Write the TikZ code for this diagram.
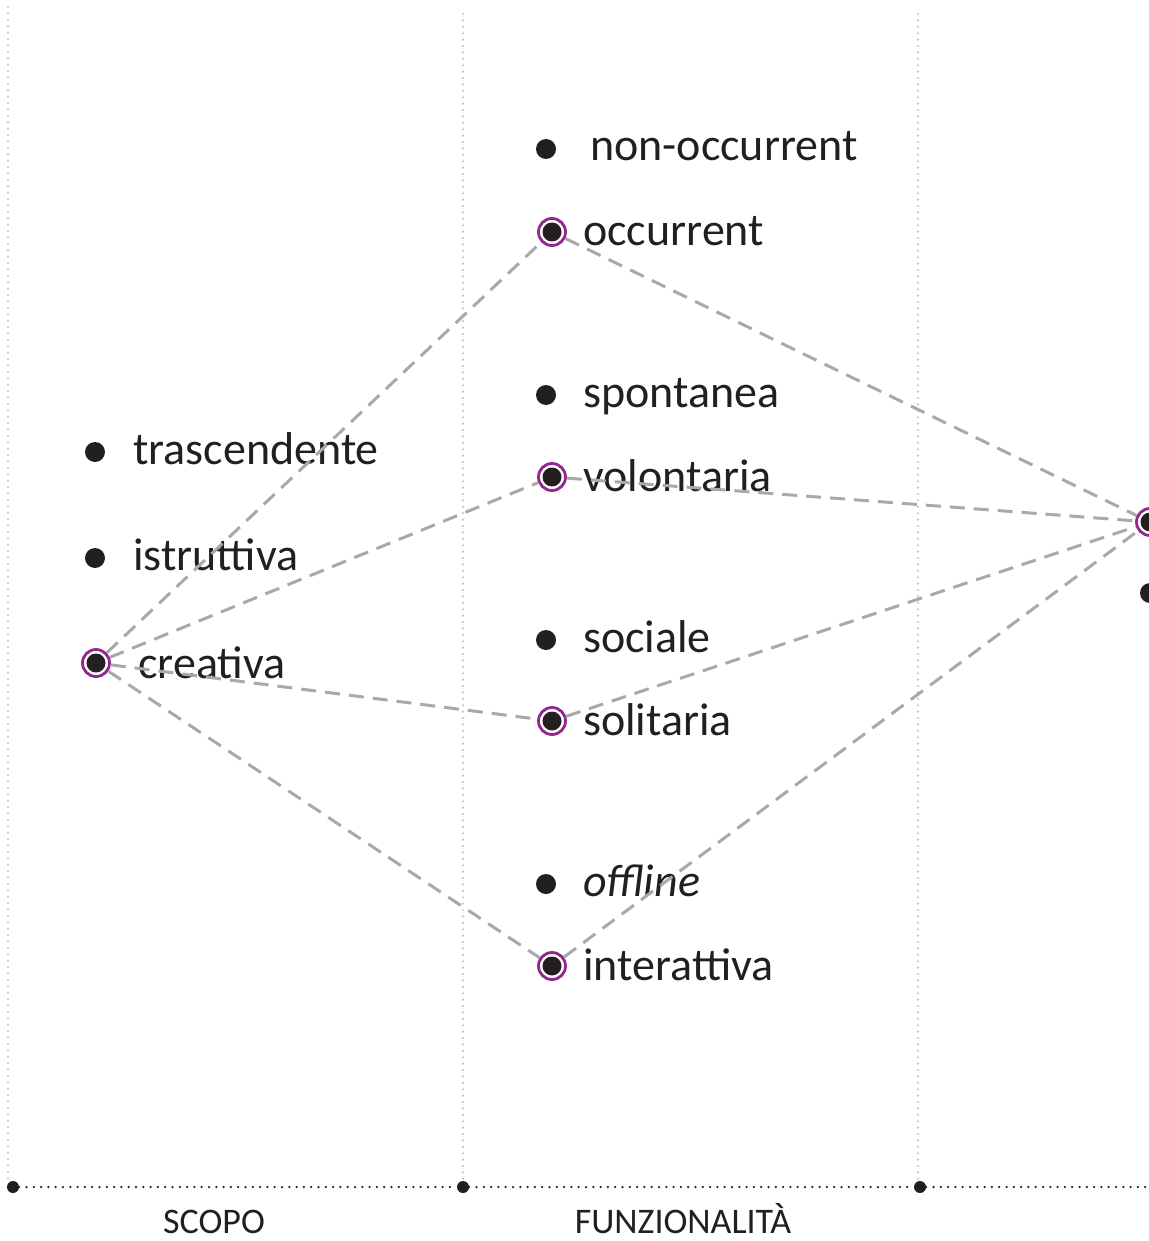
\documentclass[tikz,border=0pt]{standalone}
\usepackage{fontspec}
\setmainfont{Carlito}
\definecolor{ringpurple}{HTML}{93278F}
\definecolor{dotgray}{HTML}{C4C4C4}
\definecolor{linkgray}{HTML}{A9A9AB}
\definecolor{ink}{HTML}{231F20}
\begin{document}
\begin{tikzpicture}[x=1pt,y=-1pt,
  bullet/.style={circle,fill=ink,inner sep=0pt,minimum size=20pt},
  picked/.style={circle,draw=ringpurple,line width=2.8pt,fill=white,inner sep=0pt,minimum size=27pt,
    path picture={\fill[ink] (path picture bounding box.center) circle (9.5pt);}},
  item/.style={anchor=base west,inner sep=0pt,font=\fontsize{46}{50}\selectfont,text=ink},
  axislabel/.style={anchor=base,inner sep=0pt,font=\fontsize{36}{40}\selectfont,text=ink},
  link/.style={draw=linkgray,line width=3pt,dash pattern=on 15pt off 9pt},
  column/.style={draw=dotgray,line width=2.4pt,line cap=round,dash pattern=on 0pt off 6.4pt},
  axis/.style={draw=ink,line width=2.5pt,line cap=round,dash pattern=on 0pt off 7.3pt},
  tick/.style={circle,fill=ink,inner sep=0pt,minimum size=12pt}]
\useasboundingbox (0,0) rectangle (1148,1241);

% column separators
\coordinate (c1top) at (8,7);   \coordinate (c1bot) at (8,1182);
\coordinate (c2top) at (463,14); \coordinate (c2bot) at (463,1182);
\coordinate (c3top) at (918,14); \coordinate (c3bot) at (918,1182);
\draw[column] (c1top) -- (c1bot);
\draw[column] (c2top) -- (c2bot);
\draw[column] (c3top) -- (c3bot);

% horizontal axis with ticks
\node[tick] (t1) at (13,1187) {};
\node[tick] (t2) at (463,1187) {};
\node[tick] (t3) at (920,1187) {};
\coordinate (axend) at (1150,1187);
\draw[axis] (t1) -- (t2) -- (t3) -- (axend);
\node[axislabel] (scopo) at (214,1233) {SCOPO};
\node[axislabel] (funz) at (683,1233) {FUNZIONALITÀ};

% first column: scopo
\node[bullet] (trasc) at (95,452) {};
\node[item] (trascT) at (133,464) {trascendente};
\node[bullet] (istr) at (95,558) {};
\node[item] (istrT) at (133,570) {istruttiva};
\node[picked] (crea) at (96,663) {};
\node[item] (creaT) at (138,678) {creativa};

% second column: funzionalita
\node[bullet] (nonocc) at (546,149) {};
\node[item] (nonoccT) at (590,161) {non-occurrent};
\node[picked] (occ) at (552,232) {};
\node[item] (occT) at (583,246) {occurrent};
\node[bullet] (spont) at (546,395) {};
\node[item] (spontT) at (583,407) {spontanea};
\node[picked] (vol) at (552,477) {};
\node[item] (volT) at (583,491) {volontaria};
\node[bullet] (soc) at (546,640) {};
\node[item] (socT) at (583,652) {sociale};
\node[picked] (sol) at (552,721) {};
\node[item] (solT) at (583,735) {solitaria};
\node[bullet] (off) at (546,884) {};
\node[item] (offT) at (583,896) {\itshape offline};
\node[picked] (inter) at (552,966) {};
\node[item] (interT) at (583,980) {interattiva};

% third column (partly outside the page)
\node[picked] (right) at (1150,522) {};
\node[bullet] (right2) at (1150,593) {};

% dashed links
\draw[link] (crea) -- (occ);
\draw[link] (crea) -- (vol);
\draw[link] (crea) -- (sol);
\draw[link] (crea) -- (inter);
\draw[link] (occ) -- (right);
\draw[link] (vol) -- (right);
\draw[link] (sol) -- (right);
\draw[link] (inter) -- (right);
\end{tikzpicture}
\end{document}
